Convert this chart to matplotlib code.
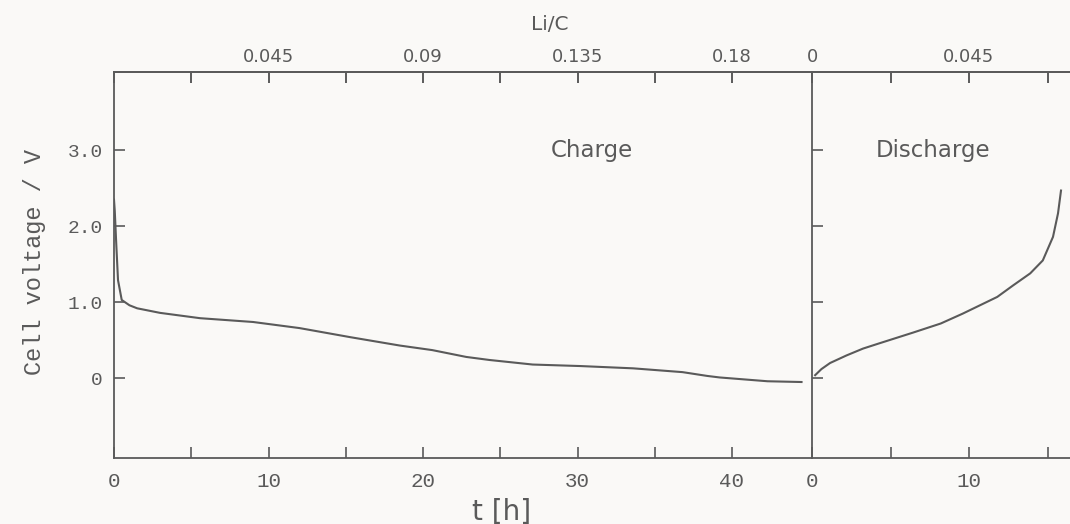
import matplotlib.pyplot as plt

# charge curve (t in h, cell voltage in V)
charge_t = [0, 0.05, 0.15, 0.26, 0.5, 1.0, 1.5, 2.98, 5.57, 9.0, 12.0, 15.3,
            18.5, 20.6, 22.8, 24.3, 27.1, 30.2, 33.6, 36.8, 38.4, 39.2, 42.3, 44.5]
charge_v = [2.35, 2.2, 1.75, 1.29, 1.03, 0.96, 0.92, 0.86, 0.79, 0.74, 0.66, 0.54,
            0.43, 0.37, 0.28, 0.24, 0.18, 0.16, 0.13, 0.08, 0.03, 0.01, -0.04, -0.05]

# discharge curve
discharge_t = [0.2, 0.6, 1.15, 2.2, 3.25, 4.3, 6.43, 8.2, 9.6, 10.7, 11.8, 12.8,
               13.9, 14.7, 15.35, 15.67, 15.86]
discharge_v = [0.04, 0.12, 0.2, 0.3, 0.39, 0.46, 0.6, 0.72, 0.85, 0.96, 1.07, 1.22,
               1.38, 1.55, 1.86, 2.17, 2.47]

y_ticks = [0, 1, 2, 3]
y_labels = ["0", "1.0", "2.0", "3.0"]
charge_xticks = [0, 5, 10, 15, 20, 25, 30, 35, 40]
charge_xlabels = ["0", "", "10", "", "20", "", "30", "", "40"]
discharge_xticks = [0, 5, 10, 15]
discharge_xlabels = ["0", "", "10", ""]
charge_top = [5, 10, 15, 20, 25, 30, 35, 40]
charge_top_labels = ["", "0.045", "", "0.09", "", "0.135", "", "0.18"]
discharge_top = [0, 5, 10, 15]
discharge_top_labels = ["0", "", "0.045", ""]

ink = "#5a5a5a"
bg = "#faf9f7"
mono = "Liberation Mono"
sans = "DejaVu Sans"

W, H = 1070, 524
fig = plt.figure(figsize=(W / 100, H / 100), dpi=100, facecolor=bg)

x0, xd, ytop, ybot = 114, 812, 72, 458
ax1 = fig.add_axes([x0 / W, (H - ybot) / H, (xd - x0) / W, (ybot - ytop) / H])
ax2 = fig.add_axes([xd / W, (H - ybot) / H, (W - xd) / W, (ybot - ytop) / H])

ax1.set_xlim(0, (xd - x0) / 15.45)
ax2.set_xlim(0, (W - xd) / 15.7)
for ax in (ax1, ax2):
    ax.set_facecolor(bg)
    ax.set_ylim(-1.05, 4.03)
    for s in ax.spines.values():
        s.set_color(ink)
        s.set_linewidth(1.3)
    ax.tick_params(direction="in", length=8, width=1.2, color=ink, labelcolor=ink,
                   top=True, bottom=True)
ax1.spines["right"].set_visible(False)
ax2.spines["right"].set_visible(False)

ax1.plot(charge_t, charge_v, color=ink, lw=1.5)
ax2.plot(discharge_t, discharge_v, color=ink, lw=1.5)

ax1.set_yticks(y_ticks)
ax1.set_yticklabels(y_labels, family=mono, fontsize=14)
ax1.tick_params(axis="y", pad=8)
ax2.set_yticks(y_ticks)
ax2.set_yticklabels([])

ax1.set_xticks(charge_xticks)
ax1.set_xticklabels(charge_xlabels, family=mono, fontsize=15)
ax2.set_xticks(discharge_xticks)
ax2.set_xticklabels(discharge_xlabels, family=mono, fontsize=15)
for ax in (ax1, ax2):
    ax.tick_params(axis="x", pad=10)

# top Li/C axis
t1 = ax1.secondary_xaxis("top")
t1.set_xticks(charge_top)
t1.set_xticklabels(charge_top_labels, family=sans, fontsize=13)
t2 = ax2.secondary_xaxis("top")
t2.set_xticks(discharge_top)
t2.set_xticklabels(discharge_top_labels, family=sans, fontsize=13)
for t in (t1, t2):
    t.tick_params(direction="in", length=8, width=1.2, color=ink, labelcolor=ink, pad=4)
    t.spines["top"].set_color(ink)
    t.spines["top"].set_linewidth(1.3)

ax1.text(30.9, 3.0, "Charge", family=sans, fontsize=16.5, color=ink, ha="center", va="center")
ax2.text(7.7, 3.0, "Discharge", family=sans, fontsize=16.5, color=ink, ha="center", va="center")

fig.text(550 / W, 1 - 25 / H, "Li/C", family=sans, fontsize=14.5, color=ink, ha="center", va="center")
fig.text(502 / W, 1 - 512 / H, "t [h]", family=sans, fontsize=20, color=ink, ha="center", va="center")
fig.text(35 / W, 1 - 262 / H, "Cell voltage / V", family=mono, fontsize=17, color=ink,
         ha="center", va="center", rotation=90)

fig.savefig("out.png", dpi=100, facecolor=bg)
